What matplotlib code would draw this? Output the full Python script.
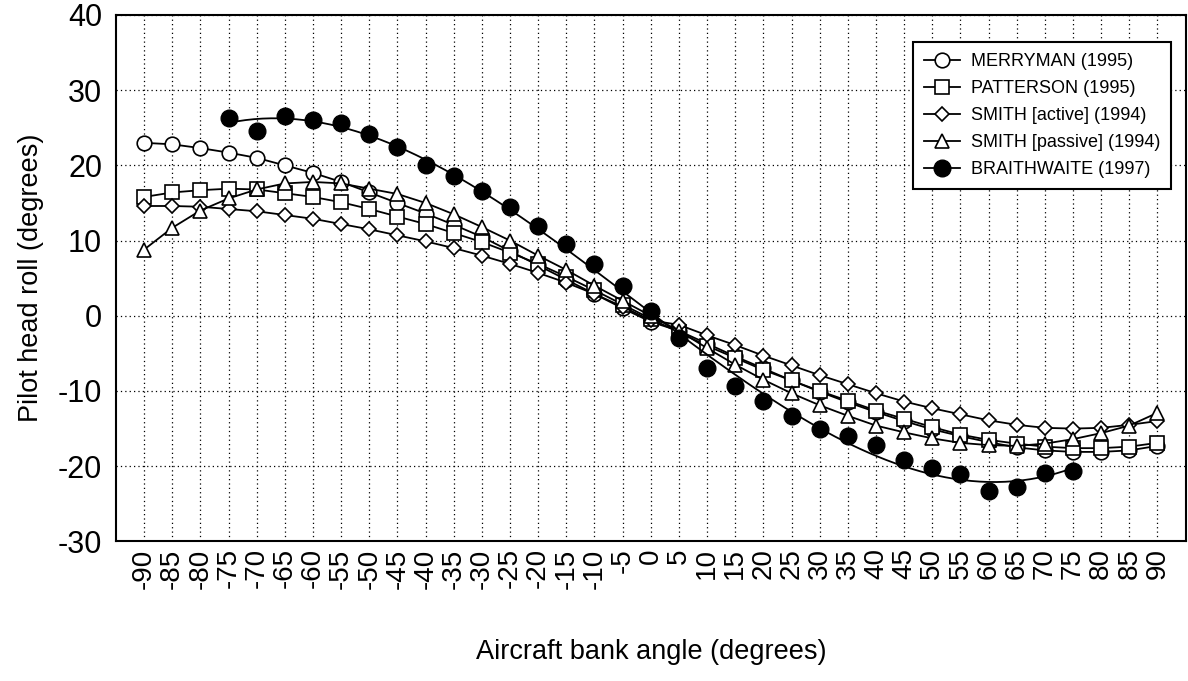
import numpy as np
import matplotlib.pyplot as plt

plt.rcParams['font.family'] = ['Liberation Sans', 'DejaVu Sans']
plt.rcParams['axes.unicode_minus'] = False

# bank angle (deg) for the four full series
bank = list(range(-90, 95, 5))

merryman = [23.0, 22.8, 22.3, 21.7, 21.0, 20.0, 19.0, 17.8, 16.4, 15.0,
            13.6, 12.1, 10.5, 8.6, 6.7, 4.8, 2.9, 1.0, -0.8,
            -2.0, -3.7, -5.4, -7.0, -8.6, -10.1, -11.5, -12.8, -14.0,
            -15.1, -16.0, -16.8, -17.5, -17.9, -18.1, -18.1, -17.9, -17.3]
patterson = [15.8, 16.4, 16.7, 16.9, 16.8, 16.3, 15.8, 15.1, 14.2, 13.2,
             12.2, 11.0, 9.8, 8.4, 6.9, 5.2, 3.4, 1.5, -0.4,
             -2.2, -4.0, -5.6, -7.2, -8.6, -10.0, -11.3, -12.6, -13.7,
             -14.8, -15.8, -16.5, -17.0, -17.4, -17.6, -17.6, -17.4, -16.9]
smith_active = [14.6, 14.6, 14.5, 14.2, 13.9, 13.4, 12.9, 12.2, 11.5, 10.7,
                9.9, 9.0, 8.0, 6.9, 5.7, 4.4, 2.9, 1.2, -0.6,
                -1.2, -2.6, -3.9, -5.3, -6.6, -7.9, -9.1, -10.3, -11.4,
                -12.3, -13.1, -13.9, -14.5, -14.9, -15.0, -14.9, -14.5, -14.0]
smith_passive = [8.8, 11.7, 14.0, 15.6, 16.8, 17.6, 17.8, 17.6, 16.9, 16.2,
                 15.0, 13.5, 11.8, 10.0, 8.0, 6.1, 4.0, 2.0, 0.0,
                 -2.0, -4.3, -6.5, -8.5, -10.3, -11.9, -13.3, -14.6, -15.5,
                 -16.3, -16.9, -17.2, -17.3, -17.0, -16.4, -15.6, -14.6, -12.9]

# Braithwaite only covers -75..75
bank_b = list(range(-75, 80, 5))
braithwaite = [26.3, 24.6, 26.6, 26.0, 25.6, 24.2, 22.4, 20.1, 18.6, 16.6,
               14.4, 11.9, 9.5, 6.9, 4.0, 0.6, -3.0, -7.0, -9.3, -11.3,
               -13.3, -15.1, -16.0, -17.2, -19.2, -20.2, -21.0, -23.3, -22.8,
               -20.9, -20.6]

fig = plt.figure(figsize=(11.88, 6.81), dpi=100)
ax = fig.add_axes([0.0976, 0.205, 0.9004, 0.773])

kw = dict(color='black', lw=1.3, markeredgecolor='black', markeredgewidth=1.2)
ax.plot(bank, merryman, marker='o', ms=10.5, mfc='white', label='MERRYMAN (1995)', **kw)
ax.plot(bank, patterson, marker='s', ms=10, mfc='white', label='PATTERSON (1995)', **kw)
ax.plot(bank, smith_active, marker='D', ms=7.5, mfc='white', label='SMITH [active] (1994)', **kw)
ax.plot(bank, smith_passive, marker='^', ms=9.5, mfc='white', label='SMITH [passive] (1994)', **kw)

# Braithwaite: points plus a cubic trend curve
xb = np.array(bank_b, dtype=float)
coef = np.polyfit(xb, braithwaite, 3)
xs = np.linspace(xb[0], xb[-1], 200)
ax.plot(xs, np.polyval(coef, xs), color='black', lw=1.3)
ax.plot(bank_b, braithwaite, ls='none', marker='o', ms=12, mfc='black', mec='black')
ax.plot([], [], color='black', lw=1.3, marker='o', ms=12, mfc='black', mec='black',
        label='BRAITHWAITE (1997)')

ax.set_xlim(-95, 95)
ax.set_ylim(-30, 40)
ax.set_xticks(bank)
ax.set_xticklabels([str(v) for v in bank], rotation=90, fontsize=20)
ax.set_yticks(range(-30, 41, 10))
ax.tick_params(axis='y', labelsize=22, length=0, pad=10)
ax.tick_params(axis='x', length=0, pad=5)
ax.grid(True, color='black', lw=0.9, ls=(0, (1, 2.5)))
for s in ax.spines.values():
    s.set_linewidth(1.5)

ax.set_xlabel('Aircraft bank angle (degrees)', fontsize=19.5, labelpad=36)
ax.set_ylabel('Pilot head roll (degrees)', fontsize=19.5, labelpad=10)

leg = ax.legend(loc='upper right', fontsize=13, frameon=True, fancybox=False,
                edgecolor='black', framealpha=1, borderpad=0.6, handlelength=2.0,
                labelspacing=0.55, handletextpad=0.6, bbox_to_anchor=(0.995, 0.965))
leg.get_frame().set_linewidth(1.5)

fig.savefig('out.png', dpi=100)
